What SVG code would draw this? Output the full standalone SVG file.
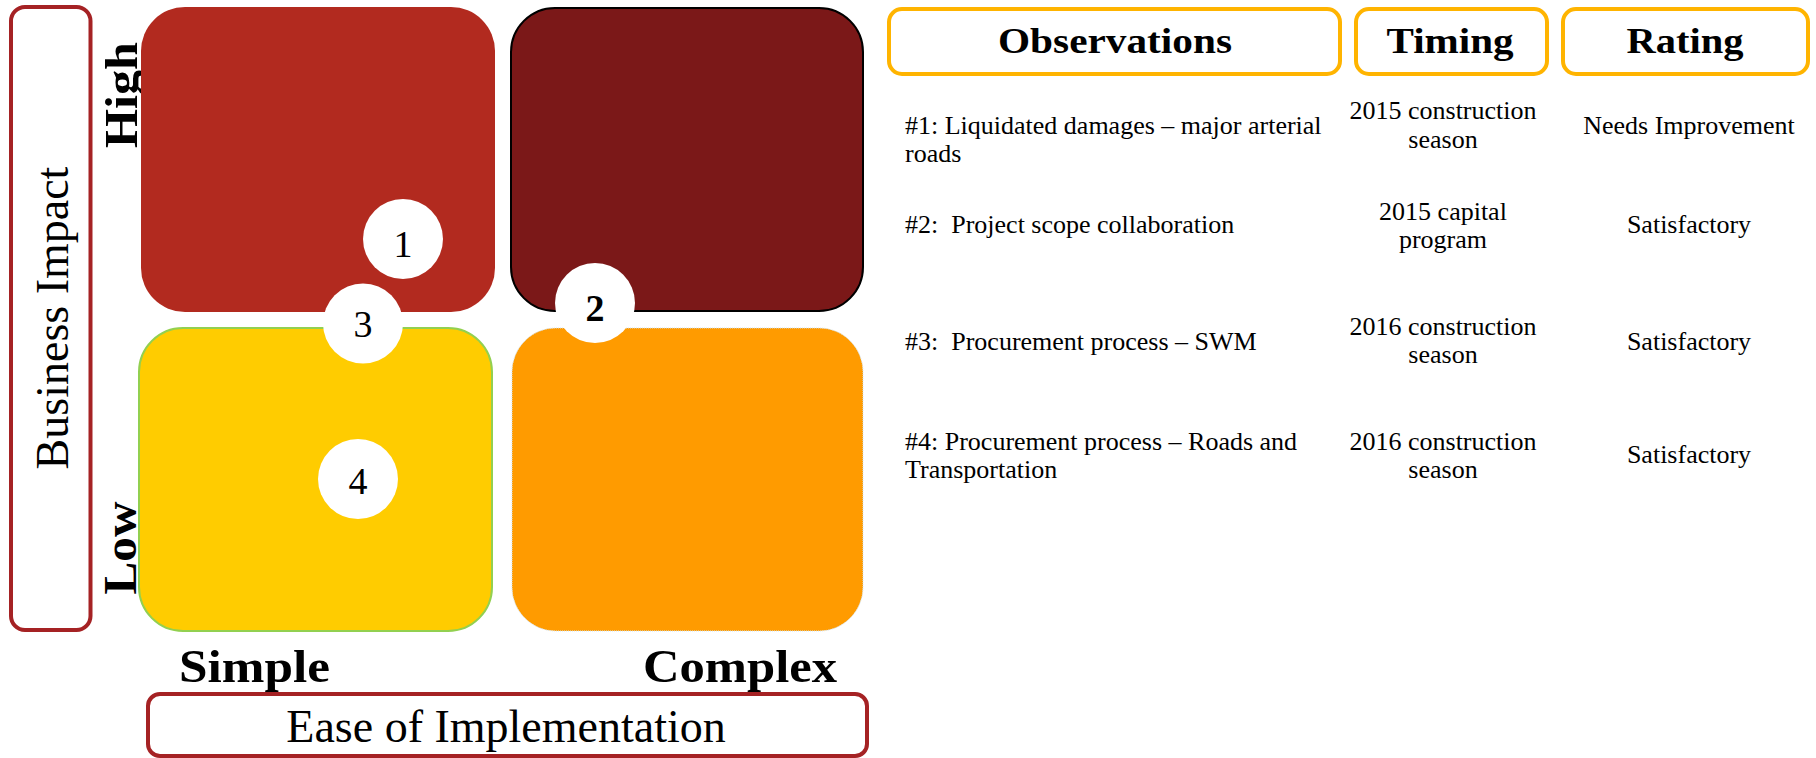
<svg xmlns="http://www.w3.org/2000/svg" width="1816" height="758" viewBox="0 0 1816 758">
<style>
text{font-family:"Liberation Serif","Times New Roman",serif;fill:#000}
.axis{font-size:46px}
.lvl{font-size:46px;font-weight:bold}
.hdr{font-size:36px;font-weight:bold;text-anchor:middle}
.body{font-size:26px;white-space:pre}
.mid{text-anchor:middle}
.num{font-size:38px;text-anchor:middle}
.axbox{fill:#fff;stroke:#A52224;stroke-width:4}
.hbox{fill:#fff;stroke:#FFB400;stroke-width:4}
.badge{fill:#fff}
</style>
<g id="axis-y">
<rect class="axbox" x="11" y="7" width="79.5" height="623" rx="14"/>
<text class="axis mid" transform="translate(68,318) rotate(-90)">Business Impact</text>
</g>
<g id="axis-x">
<rect class="axbox" x="148" y="694" width="719" height="62" rx="12"/>
<text class="axis mid" x="506" y="742">Ease of Implementation</text>
</g>
<g id="labels">
<text class="lvl mid" transform="translate(137,95) rotate(-90)" textLength="106" lengthAdjust="spacingAndGlyphs">High</text>
<text class="lvl mid" transform="translate(136,548) rotate(-90)" textLength="93" lengthAdjust="spacingAndGlyphs">Low</text>
<text class="lvl" x="179" y="682" textLength="151" lengthAdjust="spacingAndGlyphs">Simple</text>
<text class="lvl" x="643" y="682" textLength="194" lengthAdjust="spacingAndGlyphs">Complex</text>
</g>
<g id="q-high-simple"><rect x="141" y="7" width="354" height="305" rx="44" fill="#B22A1F"/></g>
<g id="q-high-complex"><rect x="511" y="8" width="352" height="303" rx="44" fill="#7B1818" stroke="#000" stroke-width="2"/></g>
<g id="q-low-simple"><rect x="139" y="328" width="353" height="303" rx="44" fill="#FFCC00" stroke="#92D050" stroke-width="2"/></g>
<g id="q-low-complex"><rect x="512" y="328" width="351" height="303" rx="44" fill="#FF9B00" stroke="#cfe3ef" stroke-width="1" stroke-dasharray="1 1"/></g>
<g id="badge-1"><circle class="badge" cx="403" cy="239" r="40"/><text class="num" x="403" y="257">1</text></g>
<g id="badge-2"><circle class="badge" cx="595" cy="303" r="40"/><text class="num" x="595" y="321" font-weight="bold">2</text></g>
<g id="badge-3"><circle class="badge" cx="363" cy="323.5" r="40"/><text class="num" x="363" y="337">3</text></g>
<g id="badge-4"><circle class="badge" cx="358" cy="479" r="40"/><text class="num" x="358" y="494">4</text></g>
<g id="hdr-observations"><rect class="hbox" x="889" y="9" width="451" height="65" rx="13"/><text class="hdr" x="1115" y="53" textLength="234" lengthAdjust="spacingAndGlyphs">Observations</text></g>
<g id="hdr-timing"><rect class="hbox" x="1356" y="9" width="191" height="65" rx="13"/><text class="hdr" x="1450" y="53" textLength="127" lengthAdjust="spacingAndGlyphs">Timing</text></g>
<g id="hdr-rating"><rect class="hbox" x="1563" y="9" width="245" height="65" rx="13"/><text class="hdr" x="1685" y="53" textLength="117" lengthAdjust="spacingAndGlyphs">Rating</text></g>
<g id="row-1">
<text class="body" x="905" y="134">#1: Liquidated damages – major arterial</text>
<text class="body" x="905" y="162">roads</text>
<text class="body mid" x="1443" y="119">2015 construction</text>
<text class="body mid" x="1443" y="148">season</text>
<text class="body mid" x="1689" y="134">Needs Improvement</text>
</g>
<g id="row-2">
<text class="body" x="905" y="233">#2:  Project scope collaboration</text>
<text class="body mid" x="1443" y="220">2015 capital</text>
<text class="body mid" x="1443" y="248">program</text>
<text class="body mid" x="1689" y="233">Satisfactory</text>
</g>
<g id="row-3">
<text class="body" x="905" y="350">#3:  Procurement process – SWM</text>
<text class="body mid" x="1443" y="335">2016 construction</text>
<text class="body mid" x="1443" y="363">season</text>
<text class="body mid" x="1689" y="350">Satisfactory</text>
</g>
<g id="row-4">
<text class="body" x="905" y="450">#4: Procurement process – Roads and</text>
<text class="body" x="905" y="478">Transportation</text>
<text class="body mid" x="1443" y="450">2016 construction</text>
<text class="body mid" x="1443" y="478">season</text>
<text class="body mid" x="1689" y="463">Satisfactory</text>
</g>
<g id="connectors"></g>
</svg>
